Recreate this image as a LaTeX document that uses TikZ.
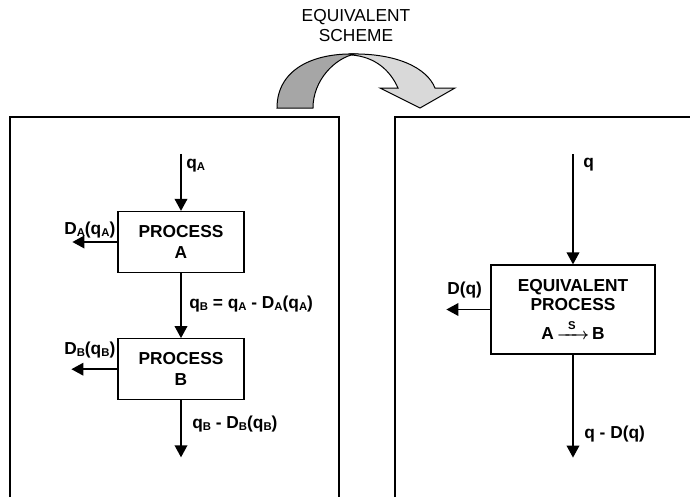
\documentclass[tikz,border=0pt]{standalone}
\usepackage{fontspec}
\setmainfont{Liberation Sans}
\usepackage{amsmath}
\usetikzlibrary{arrows.meta, positioning}
\definecolor{backband}{RGB}{166,166,166}
\definecolor{frontband}{RGB}{217,217,217}
\newcommand{\lowsub}[1]{\raisebox{-0.3ex}{\fontsize{8.5}{9}\selectfont #1}}

\begin{document}
\begin{tikzpicture}[
    x=0.75pt, y=-0.75pt,
    font=\fontsize{13}{15.5}\selectfont\bfseries,
    procbox/.style={rectangle, draw, line width=0.9pt, minimum width=94.5pt, minimum height=45.75pt, align=center, inner sep=0pt},
    flow/.style={line width=1.1pt, -{Triangle[length=9pt,width=9.5pt]}},
    lbl/.style={anchor=base west, inner sep=0pt},
    panel/.style={line width=1.1pt}
]
\useasboundingbox (0,0) rectangle (690,497);

% the two panels
\draw[panel] (10,497) |- (339,117) -- (339,497);
\draw[panel] (395,497) |- (690,117);

% title with the bent arrow
\node[font=\fontsize{13}{15}\selectfont, align=center] (title) at (356,25.5) {EQUIVALENT\\SCHEME};
\filldraw[fill=backband, line width=0.75pt] (277,108) .. controls (277,70) and (312,53) .. (355,54)
    .. controls (335,58) and (313,80) .. (313,108) -- cycle;
\filldraw[fill=frontband, line width=0.75pt] (350,54) .. controls (397,53) and (427,68) .. (435,88)
    -- (455,88) -- (420,108) -- (380,88) -- (398,88)
    .. controls (390,70) and (375,57) .. (352,55) -- cycle;

% left panel
\node[procbox] (procA) at (181,242) {PROCESS\\A};
\node[procbox, below=48.75pt of procA] (procB) {PROCESS\\B};

\coordinate[above=42.75pt of procA.north] (qAin);
\coordinate[left=33.75pt of procA.west] (lossA);
\coordinate[left=34.5pt of procB.west] (lossB);
\coordinate[below=42.75pt of procB.south] (outB);

\draw[flow] (qAin) -- (procA.north);
\draw[flow] (procA.west) -- (lossA);
\draw[flow] (procA.south) -- (procB.north);
\draw[flow] (procB.west) -- (lossB);
\draw[flow] (procB.south) -- (outB);

\node[lbl] (qAlbl) at (186,168) {q\lowsub{A}};
\node[lbl] (lossAlbl) at (64,234) {D\lowsub{A}(q\lowsub{A})};
\node[lbl] (qBlbl) at (189,308) {q\lowsub{B} = q\lowsub{A} - D\lowsub{A}(q\lowsub{A})};
\node[lbl] (lossBlbl) at (64,354) {D\lowsub{B}(q\lowsub{B})};
\node[lbl] (outBlbl) at (192,428) {q\lowsub{B} - D\lowsub{B}(q\lowsub{B})};

% right panel
\node[procbox, minimum width=123pt, minimum height=66.75pt, font=\fontsize{13}{14}\selectfont\bfseries] (equiv) at (573,309.5)
    {EQUIVALENT\\PROCESS\\[6pt] A\,{\boldmath$\xrightarrow{\makebox[16pt]{\fontsize{8.5}{9}\selectfont\bfseries S}}$}\,B};

\coordinate[above=82.5pt of equiv.north] (qin);
\coordinate[left=33pt of equiv.west] (lossE);
\coordinate[below=77.25pt of equiv.south] (outE);

\draw[flow] (qin) -- (equiv.north);
\draw[flow] (equiv.west) -- (lossE);
\draw[flow] (equiv.south) -- (outE);

\node[lbl] (qlbl) at (583,167) {q};
\node[lbl] (lossElbl) at (447,294) {D(q)};
\node[lbl] (outElbl) at (584,438) {q - D(q)};

\end{tikzpicture}
\end{document}
